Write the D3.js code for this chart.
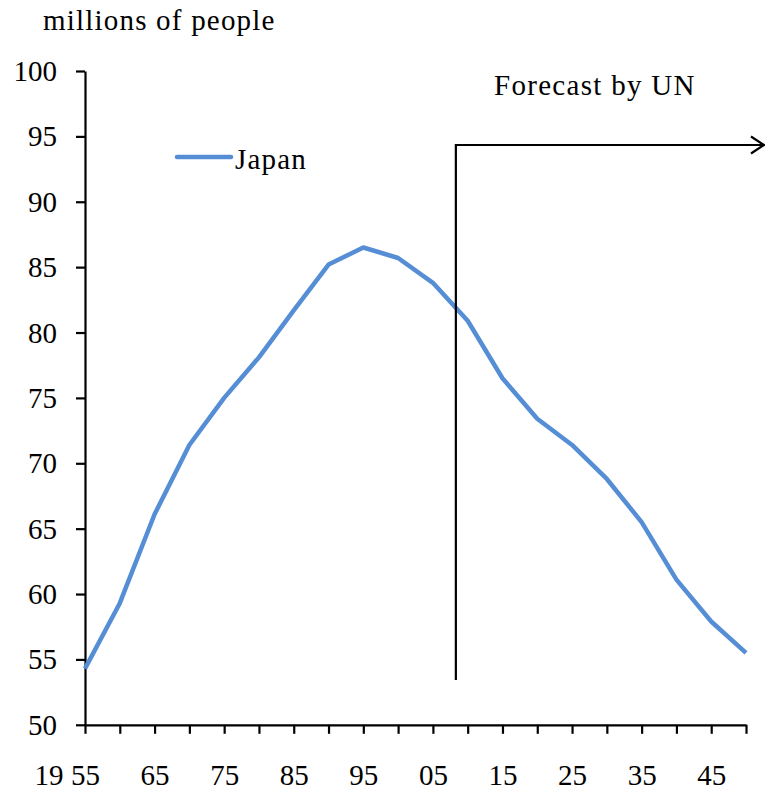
<!DOCTYPE html>
<html>
<head>
<meta charset="utf-8">
<script src="https://cdn.jsdelivr.net/npm/d3@7"></script>
<style>
  html, body { margin: 0; padding: 0; background: #fff; }
  svg text { font-family: "Liberation Serif", "Times New Roman", serif; fill: #000; }
</style>
</head>
<body>
<svg id="chart" width="765" height="790"></svg>
<script>
// ---- data ----
const years = [1955,1960,1965,1970,1975,1980,1985,1990,1995,2000,2005,2010,2015,2020,2025,2030,2035,2040,2045,2050];
const japan = [54.3,59.3,66.1,71.4,75.0,78.1,81.7,85.2,86.5,85.7,83.8,80.9,76.5,73.4,71.4,68.8,65.5,61.1,57.9,55.5];
const yTicks = [50,55,60,65,70,75,80,85,90,95,100];
const xLabelYears = [1955,1965,1975,1985,1995,2005,2015,2025,2035,2045];
const forecastStartYear = 2008.3;
const seriesName = "Japan";
const yUnit = "millions of people";
const forecastLabel = "Forecast by UN";
const centuryPrefix = "19";

// ---- layout ----
const svg = d3.select("#chart");
const mLeft = 85, mRight = 746, mTop = 71, mBottom = 724.8;
const x = d3.scaleLinear().domain([1955, 2050]).range([mLeft, mRight]);
const y = d3.scaleLinear().domain([50, 100]).range([mBottom, mTop]);
const fs = 29;
const serif = '"Liberation Serif", "Times New Roman", serif';

// y axis
const yAxis = svg.append("g")
  .attr("transform", `translate(${mLeft},0)`)
  .call(d3.axisLeft(y).tickValues(yTicks).tickSize(9).tickPadding(19).tickSizeOuter(0));
yAxis.selectAll("text").style("font-size", fs + "px").style("font-family", serif).attr("dy", "0.33em");

// x axis
const xAxis = svg.append("g")
  .attr("transform", `translate(0,${mBottom})`)
  .call(d3.axisBottom(x).tickValues(years).tickSize(9).tickSizeOuter(0)
    .tickFormat(d => xLabelYears.includes(d) ? String(d).slice(2) : ""));
xAxis.selectAll("text").style("font-size", fs + "px").style("font-family", serif).attr("y", 60).attr("dy", 0);

[yAxis, xAxis].forEach(g => {
  g.select(".domain").attr("stroke", "#000").attr("stroke-width", 2.2);
  g.selectAll(".tick line").attr("stroke", "#000").attr("stroke-width", 2.2);
});

function label(tx, ty, str, anchor, ls) {
  return svg.append("text").attr("x", tx).attr("y", ty)
    .attr("text-anchor", anchor || "start")
    .style("font-size", fs + "px").style("font-family", serif)
    .style("letter-spacing", (ls || 0) + "px")
    .text(str);
}

// century prefix
label(49, mBottom + 60, centuryPrefix, "middle", 0);

// unit label
label(43, 30, yUnit, "start", 1.2);

// line
const line = d3.line().x((d, i) => x(years[i])).y(d => y(d));
svg.append("path").datum(japan)
  .attr("d", line)
  .attr("fill", "none")
  .attr("stroke", "#558ed5")
  .attr("stroke-width", 4.5)
  .attr("stroke-linejoin", "round");

// legend
svg.append("line").attr("x1", 177).attr("x2", 231).attr("y1", 157).attr("y2", 157)
  .attr("stroke", "#558ed5").attr("stroke-width", 4.5).attr("stroke-linecap", "round");
label(235, 169, seriesName, "start", 1.2);

// forecast marker
const fx = x(forecastStartYear);
svg.append("path")
  .attr("d", `M${fx},680 L${fx},145 L764,145`)
  .attr("fill", "none").attr("stroke", "#000").attr("stroke-width", 2.2);
svg.append("path")
  .attr("d", `M751,136.5 L764,145 L751,153.5`)
  .attr("fill", "none").attr("stroke", "#000").attr("stroke-width", 2.2);
label(494, 95, forecastLabel, "start", 1.3);
</script>
</body>
</html>
